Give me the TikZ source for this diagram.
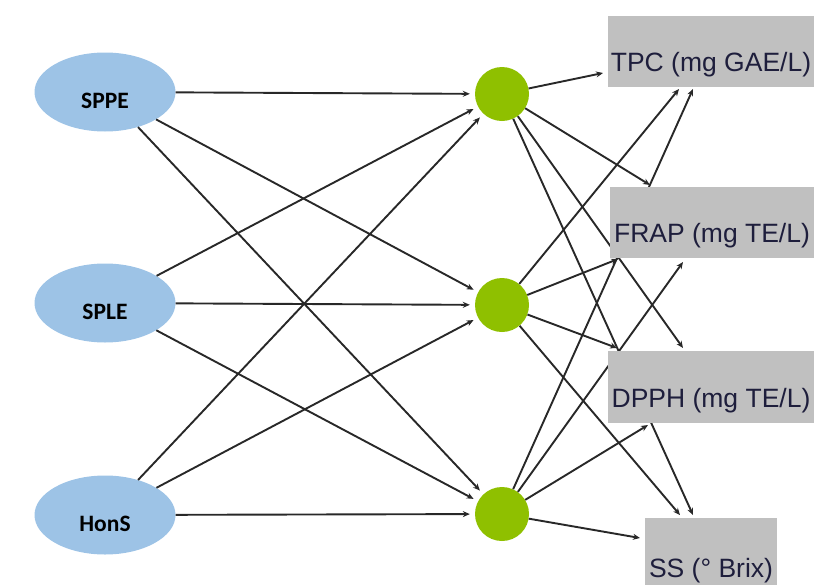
\documentclass[tikz,border=0pt]{standalone}
\usepackage{fontspec}
\setmainfont{Liberation Sans}
\newfontfamily\calib{Carlito}
\usetikzlibrary{arrows.meta,shapes.geometric}
\definecolor{inblue}{RGB}{157,195,230}
\definecolor{hidgreen}{RGB}{143,192,0}
\definecolor{outgray}{RGB}{192,192,192}
\definecolor{txtnavy}{RGB}{30,30,60}
\definecolor{linegray}{RGB}{40,40,40}
\begin{document}
\begin{tikzpicture}
  [x=1pt,y=-1pt,
   inp/.style={ellipse,fill=inblue,minimum width=141pt,minimum height=79pt,inner sep=0pt,
     text height=33pt,text depth=0pt,font=\calib\bfseries\fontsize{23.5}{26}\selectfont},
   hid/.style={circle,fill=hidgreen,minimum size=54pt,inner sep=0pt},
   outp/.style={rectangle,fill=outgray,minimum height=71pt,inner sep=0pt,text=txtnavy,
     text height=40pt,text depth=0pt,font=\fontsize{26.5}{30}\selectfont},
   conn/.style={draw=linegray,line width=1.9pt,-{Stealth[length=7pt,width=6pt]}}]
  \useasboundingbox (0,0) rectangle (814,584);
  \node[inp] (sppe) at (105,92) {SPPE};
  \node[inp] (sple) at (105,303) {SPLE};
  \node[inp] (hons) at (105,515) {HonS};
  \node[hid] (h1) at (502,94) {};
  \node[hid] (h2) at (502,305) {};
  \node[hid] (h3) at (502,514) {};

  % where the arrows meet the boxes
  \coordinate (tpc1) at (603,73);
  \coordinate (tpc2) at (679,89);
  \coordinate (tpc3) at (693,89);
  \coordinate (frap1) at (650,185);
  \coordinate (frap2) at (618,259);
  \coordinate (frap3) at (683,262);
  \coordinate (dpph1) at (683,348);
  \coordinate (dpph2) at (617,348);
  \coordinate (dpph3) at (648,425);
  \coordinate (ss1) at (693,515);
  \coordinate (ss2) at (680,515);
  \coordinate (ss3) at (640,538);

  \foreach \from in {sppe,sple,hons}
    \foreach \to in {h1,h2,h3}
      \draw[conn,shorten >=5pt] (\from) -- (\to);

  \foreach \h in {1,2,3}
    \foreach \o in {tpc,frap,dpph,ss}
      \draw[conn] (h\h) -- (\o\h);

  \node[outp,minimum width=206pt] (tpc) at (711,51.5) {TPC (mg GAE/L)};
  \node[outp,minimum width=204pt] (frap) at (712,222.5) {FRAP (mg TE/L)};
  \node[outp,minimum width=206pt,minimum height=72pt] (dpph) at (711,387) {DPPH (mg TE/L)};
  \node[outp,minimum width=132pt,minimum height=72pt,text height=46pt] (ss) at (711,554) {SS (° Brix)};
\end{tikzpicture}
\end{document}
